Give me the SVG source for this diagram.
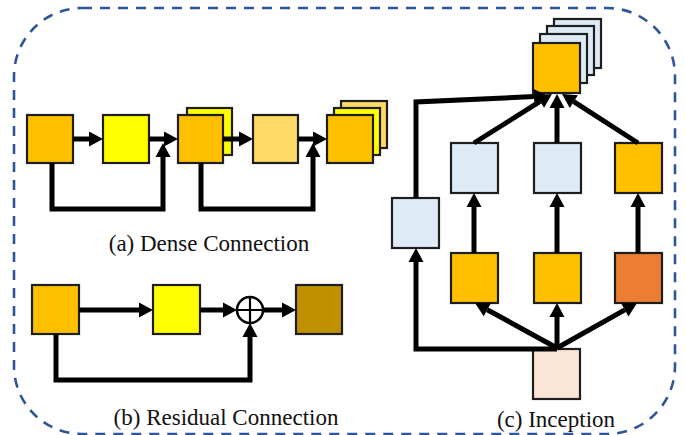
<svg xmlns="http://www.w3.org/2000/svg" width="685" height="435" viewBox="0 0 685 435">
  <style>
    .box { stroke: #1e1e1e; stroke-width: 2.2; }
    .orange { fill: #FFC000; }
    .yellow { fill: #FFFF00; }
    .lightorange { fill: #FFD966; }
    .gold { fill: #BF9000; }
    .blue { fill: #DEEBF7; }
    .darkorange { fill: #ED7D31; }
    .peach { fill: #FBE5D6; }
    .wire { fill: none; stroke: #000; stroke-width: 5; stroke-linejoin: miter; stroke-linecap: butt; marker-end: url(#head); }
    .label { font-family: "Liberation Serif", "Times New Roman", serif; font-size: 23px; fill: #111; text-anchor: middle; }
  </style>
  <defs>
    <marker id="head" markerUnits="userSpaceOnUse" markerWidth="14" markerHeight="15" viewBox="0 0 14 15" refX="0" refY="7.5" orient="auto" overflow="visible">
      <path d="M0,0 L14,7.5 L0,15 Z" fill="#000"/>
    </marker>
  </defs>

  <!-- outer dashed frame -->
  <rect x="14" y="8" width="661" height="426" rx="68" ry="68" fill="none" stroke="#2F5597" stroke-width="2.6" stroke-dasharray="10 8"/>

  <!-- (a) dense connection -->
  <g id="dense-1"><rect class="box orange" x="27" y="115" width="46" height="48"/></g>
  <g id="dense-2"><rect class="box yellow" x="103" y="115" width="46" height="48"/></g>
  <g id="dense-3">
    <rect class="box yellow" x="187" y="108" width="45" height="47"/>
    <rect class="box orange" x="178" y="115" width="45" height="48"/>
  </g>
  <g id="dense-4"><rect class="box lightorange" x="253" y="115" width="45" height="48"/></g>
  <g id="dense-5">
    <rect class="box lightorange" x="341" y="101" width="46" height="47"/>
    <rect class="box yellow" x="334" y="108" width="46" height="47"/>
    <rect class="box orange" x="327" y="115" width="46" height="48"/>
  </g>

  <!-- (b) residual connection -->
  <g id="res-1"><rect class="box orange" x="32" y="285" width="47" height="49"/></g>
  <g id="res-2"><rect class="box yellow" x="153" y="285" width="47" height="49"/></g>
  <g id="res-sum">
    <circle cx="250" cy="310" r="13" fill="#fff" stroke="#000" stroke-width="2.5"/>
    <path d="M237,310 H263 M250,297 V323" stroke="#000" stroke-width="2.2"/>
  </g>
  <g id="res-3"><rect class="box gold" x="296" y="285" width="46" height="49"/></g>

  <!-- (c) inception -->
  <g id="inc-out">
    <rect class="box blue" x="554" y="19" width="47" height="49"/>
    <rect class="box blue" x="547" y="26" width="47" height="49"/>
    <rect class="box blue" x="540" y="34" width="47" height="49"/>
    <rect class="box orange" x="533" y="43" width="47" height="50"/>
  </g>
  <g id="inc-mid-1"><rect class="box blue" x="451" y="143" width="47" height="50"/></g>
  <g id="inc-mid-2"><rect class="box blue" x="534" y="143" width="47" height="50"/></g>
  <g id="inc-mid-3"><rect class="box orange" x="615" y="143" width="47" height="50"/></g>
  <g id="inc-side"><rect class="box blue" x="392" y="198" width="47" height="50"/></g>
  <g id="inc-low-1"><rect class="box orange" x="451" y="253" width="47" height="50"/></g>
  <g id="inc-low-2"><rect class="box orange" x="534" y="253" width="47" height="50"/></g>
  <g id="inc-low-3"><rect class="box darkorange" x="615" y="253" width="47" height="50"/></g>
  <g id="inc-in"><rect class="box peach" x="533" y="349" width="47" height="50"/></g>

  <!-- connectors -->
  <g id="connectors">
    <path class="wire" d="M73,139 H89"/>
    <path class="wire" d="M149,139 H164"/>
    <path class="wire" d="M52,163 V209 H163 V157"/>
    <path class="wire" d="M223,139 H239"/>
    <path class="wire" d="M298,139 H313"/>
    <path class="wire" d="M201,163 V209 H313 V157"/>

    <path class="wire" d="M79,310 H139"/>
    <path class="wire" d="M200,310 H223"/>
    <path class="wire" d="M263,310 H282"/>
    <path class="wire" d="M56,334 V380 H250 V337"/>

    <path class="wire" d="M557,349 H416 V262"/>
    <path class="wire" d="M557,348 L487.3,309.7"/>
    <path class="wire" d="M557,349 V317"/>
    <path class="wire" d="M557,348 L624.8,309.9"/>
    <path class="wire" d="M474,253 V207"/>
    <path class="wire" d="M557,253 V207"/>
    <path class="wire" d="M638,253 V207"/>
    <path class="wire" d="M474,143 L540.1,101.4"/>
    <path class="wire" d="M557,143 V108"/>
    <path class="wire" d="M638,143 L573.8,101.6"/>
    <path class="wire" d="M416,198 V102 L534,96.6"/>
  </g>

  <!-- captions -->
  <text class="label" x="209" y="251">(a) Dense Connection</text>
  <text class="label" x="226" y="425">(b) Residual Connection</text>
  <text class="label" x="556" y="427">(c) Inception</text>
</svg>
